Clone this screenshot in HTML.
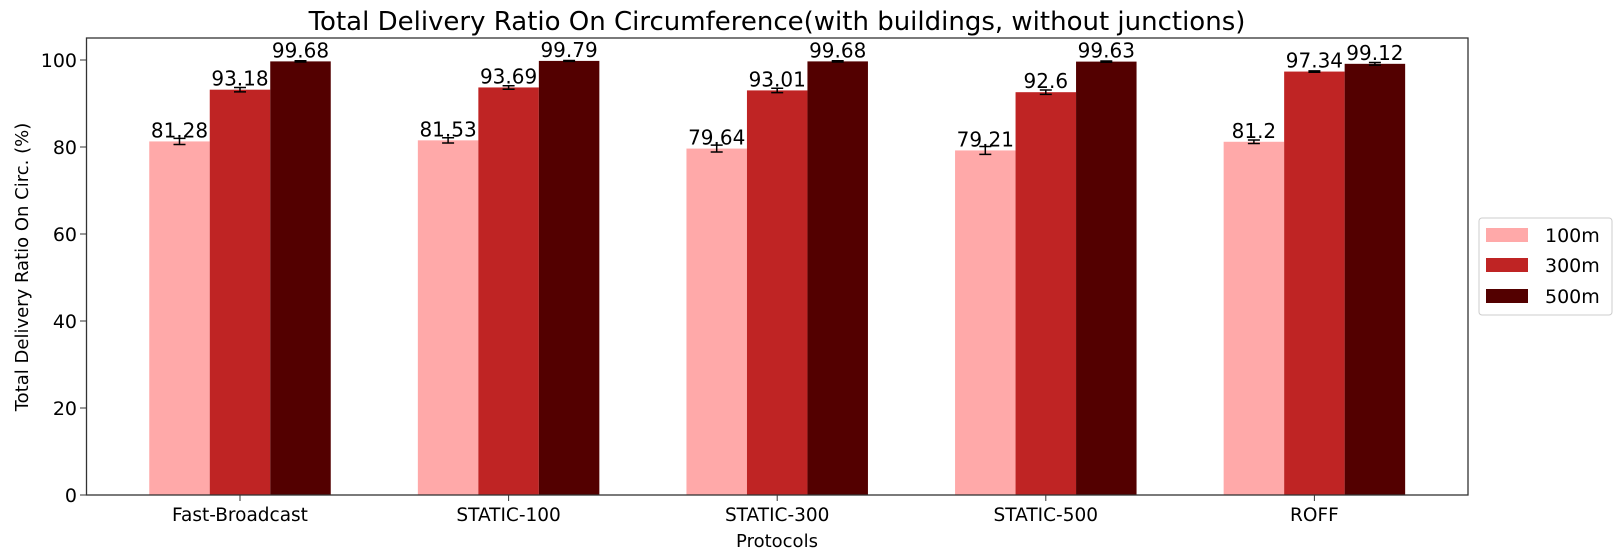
<!DOCTYPE html>
<html><head><meta charset="utf-8"><style>
body{margin:0;background:#fff;}
svg text{font-family:"DejaVu Sans","Liberation Sans",sans-serif;}
</style></head><body>
<svg id="chart" width="1620" height="552" xmlns="http://www.w3.org/2000/svg">
<text x="777" y="30" font-size="26" text-anchor="middle">Total Delivery Ratio On Circumference(with buildings, without junctions)</text>
<g id="plot"></g>
<rect x="86.5" y="38" width="1381.5" height="457" fill="none" stroke="#333" stroke-width="1.3"/>
<text x="777" y="547" font-size="18" text-anchor="middle">Protocols</text>
<text x="28" y="267" font-size="18" text-anchor="middle" transform="rotate(-90 28 267)">Total Delivery Ratio On Circ. (%)</text>
<g>
<rect x="1479" y="218" width="133" height="97" rx="3" fill="#fff" stroke="#ccc"/>
<rect x="1486" y="228" width="42" height="14" fill="#ffa9a9"/>
<text x="1545" y="242" font-size="19">100m</text>
<rect x="1486" y="258" width="42" height="14" fill="#bf2424"/>
<text x="1545" y="272" font-size="19">300m</text>
<rect x="1486" y="289" width="42" height="14" fill="#530000"/>
<text x="1545" y="303" font-size="19">500m</text>
</g>
</svg>
<script>
const categories=["Fast-Broadcast","STATIC-100","STATIC-300","STATIC-500","ROFF"];
const seriesNames=["100m","300m","500m"];
const s100=[81.28,81.53,79.64,79.21,81.2];
const s300=[93.18,93.69,93.01,92.6,97.34];
const s500=[99.68,99.79,99.68,99.63,99.12];
const e100=[0.7,0.6,0.8,0.9,0.4];
const e300=[0.5,0.4,0.5,0.5,0.15];
const e500=[0.15,0.1,0.15,0.15,0.3];
const yTicks=[0,20,40,60,80,100];
const colors=["#ffa9a9","#bf2424","#530000"];
const NS="http://www.w3.org/2000/svg";
const plot=document.getElementById('plot');
function y(v){return 495-v*4.35;}
function xc(i){return 240+i*268.6;}
const bw=60.5;
function mk(t,a){const e=document.createElementNS(NS,t);for(const k in a)e.setAttribute(k,a[k]);plot.appendChild(e);return e;}
yTicks.forEach(t=>{
 const l=mk('line',{x1:80,x2:86.5,y1:y(t),y2:y(t),stroke:'#333'});
 
 
 const tx=mk('text',{x:77,y:y(t)+7,'font-size':19,'text-anchor':'end'});tx.textContent=t;
 
 
});
categories.forEach((c,i)=>{
 const l=mk('line',{x1:xc(i),x2:xc(i),y1:495,y2:501,stroke:'#333'});
 
 
 const tx=mk('text',{x:xc(i),y:521,'font-size':18.5,'text-anchor':'middle'});tx.textContent=c;
 
 
});
[s100,s300,s500].forEach((s,k)=>{
 const errs=[e100,e300,e500][k];
 s.forEach((v,i)=>{
  const cx=xc(i)+(k-1)*bw;
  const r=mk('rect',{x:cx-bw/2,y:y(v),width:bw,height:495-y(v),fill:colors[k]});
  
  
  const e=errs[i];
  const g=mk('path',{d:`M${cx},${y(v-e)}V${y(v+e)}M${cx-6},${y(v-e)}H${cx+6}M${cx-6},${y(v+e)}H${cx+6}`,stroke:'#000','stroke-width':1.5,fill:'none'});
  
  
  const t=mk('text',{x:cx,y:y(v)-4,'font-size':20,'text-anchor':'middle'});t.textContent=v;
  
  
 });
});
</script>
</body></html>
